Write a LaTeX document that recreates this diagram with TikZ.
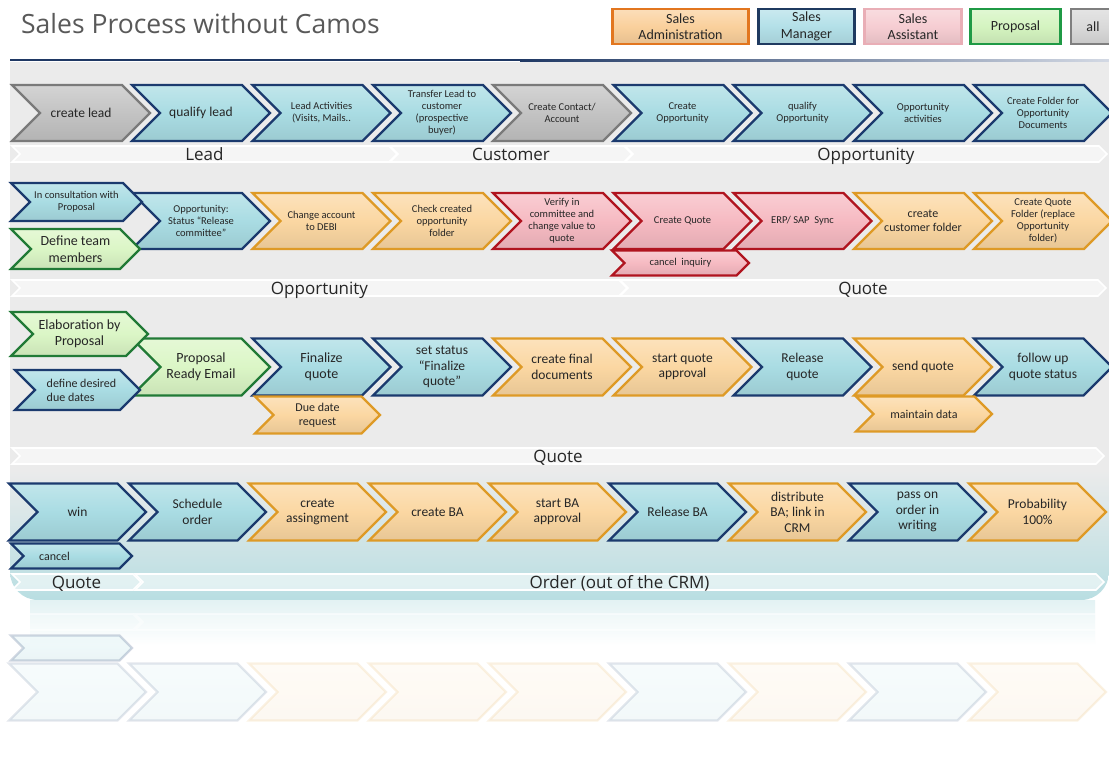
\documentclass[tikz,border=0pt]{standalone}
\usepackage{fontspec}
\setmainfont{Carlito}
\newfontfamily\hfont{Open Sans}
\usetikzlibrary{calc}
\definecolor{tealF}{HTML}{A9DCE3}
\definecolor{tealB}{HTML}{1B3A6E}
\definecolor{oranF}{HTML}{FBD7A2}
\definecolor{oranB}{HTML}{DE9A26}
\definecolor{greyF}{HTML}{C3C3C3}
\definecolor{greyB}{HTML}{7A7A7A}
\definecolor{pinkF}{HTML}{F6BAC2}
\definecolor{pinkB}{HTML}{B0141F}
\definecolor{greenF}{HTML}{DBF6C6}
\definecolor{greenB}{HTML}{217A36}
\definecolor{panel}{HTML}{EBEBEB}
\definecolor{panelT}{HTML}{B8DEE2}
\definecolor{txt}{HTML}{262626}
\definecolor{titlegrey}{HTML}{595959}
\definecolor{navy}{HTML}{1F3864}
\definecolor{navyfade}{HTML}{D3D9E4}
\definecolor{legSA}{HTML}{FAD09C}
\definecolor{legSAb}{HTML}{E2761F}
\definecolor{legSM}{HTML}{B3E0E8}
\definecolor{legSMb}{HTML}{1F3A60}
\definecolor{legAS}{HTML}{F6CDD2}
\definecolor{legASb}{HTML}{E9AEB6}
\definecolor{legPR}{HTML}{D4F4C0}
\definecolor{legPRb}{HTML}{1F9A45}
\definecolor{legAL}{HTML}{D9D9D9}
\definecolor{legALb}{HTML}{7F7F7F}

\tikzset{
 cbox/.style 2 args={top color=#1!72!white, bottom color=#1!92!black, middle color=#1, draw=#2, line width=2.2pt, line join=miter},
 kteal/.style={cbox={tealF}{tealB}},
 korange/.style={cbox={oranF}{oranB}},
 kgrey/.style={cbox={greyF}{greyB}},
 kpink/.style={cbox={pinkF}{pinkB}},
 kgreen/.style={cbox={greenF}{greenB}},
 ctext/.style={align=center, text=txt, inner sep=0pt},
 fa/.style={font=\fontsize{10.5}{12}\selectfont},
 fb/.style={font=\fontsize{12}{14}\selectfont},
 fc/.style={font=\fontsize{13.5}{15.5}\selectfont},
 fd/.style={font=\fontsize{14}{16.5}\selectfont},
 pbar/.style={fill=white, fill opacity=0.55, draw=white, line width=1.6pt, line join=miter},
 plabel/.style={font=\hfont\fontsize{17}{20}\selectfont, text=txt, inner sep=0pt, text height=12pt, text depth=0pt},
 legbox/.style 2 args={rectangle, top color=#1!70!white, bottom color=#1!92!black, middle color=#1, draw=#2, line width=2.8pt, minimum height=35pt, inner sep=0pt, align=center, text=txt, font=\fontsize{14}{16.5}\selectfont},
}

% chevron outline: x, cy, w, h, style
\newcommand{\chevpath}[5]{%
 \path[#5] (#1,{#2-#4/2}) -- ({#1+#3-#4/2},{#2-#4/2}) -- ({#1+#3},#2) -- ({#1+#3-#4/2},{#2+#4/2}) -- (#1,{#2+#4/2}) -- ({#1+#4/2},#2) -- cycle;}
% chevron with text: name, x, cy, w, h, shape style, text style, text
\newcommand{\chev}[8]{%
 \chevpath{#2}{#3}{#4}{#5}{#6}
 \node[ctext,#7] (#1) at ({#2+#4/2},#3) {#8};}
% phase bar: name, x1, x2, cy, text
\newcommand{\phasebar}[5]{%
 \path[pbar] (#2,{#4-8}) -- ({#3-8},{#4-8}) -- (#3,#4) -- ({#3-8},{#4+8}) -- (#2,{#4+8}) -- ({#2+8},#4) -- cycle;
 \node[plabel] (#1) at ({(#2+#3)/2},#4) {#5};}

\begin{document}
\begin{tikzpicture}[x=1pt, y=-1pt]
\useasboundingbox (0,0) rectangle (1109,763);
\fill[white] (0,0) rectangle (1109,763);

% panel
\begin{scope}
 \clip[rounded corners=28pt] (10,20) rectangle (1109,600);
 \fill[panel] (10,62) rectangle (1109,470);
 \shade[top color=panel, bottom color=panelT] (10,470) rectangle (1109,601);
\end{scope}

% reflection of the panel
\shade[top color=panelT!40!white, bottom color=white] (30,600) rectangle (1095,645);
\begin{scope}[shift={(0,1204)}, yscale=-1]
 \path[pbar, fill opacity=0.25, draw opacity=0.5] (12,574) -- (133,574) -- (141,582) -- (133,590) -- (12,590) -- (20,582) -- cycle;
 \path[pbar, fill opacity=0.25, draw opacity=0.5] (135,574) -- (1096,574) -- (1104,582) -- (1096,590) -- (135,590) -- (143,582) -- cycle;
 \chevpath{11}{556}{121}{25}{kteal, opacity=0.2}
 \chevpath{9}{512}{137}{57}{kteal, opacity=0.12}
 \chevpath{129}{512}{137}{57}{kteal, opacity=0.12}
 \chevpath{249}{512}{137}{57}{korange, opacity=0.12}
 \chevpath{369}{512}{137}{57}{korange, opacity=0.12}
 \chevpath{489}{512}{137}{57}{korange, opacity=0.12}
 \chevpath{609}{512}{137}{57}{kteal, opacity=0.12}
 \chevpath{729}{512}{137}{57}{korange, opacity=0.12}
 \chevpath{849}{512}{137}{57}{kteal, opacity=0.12}
 \chevpath{969}{512}{137}{57}{korange, opacity=0.12}
\end{scope}

% title and rule
\node[anchor=west, inner sep=0pt, font=\hfont\fontsize{26.5}{30}\selectfont, text=titlegrey] (title) at (21,23.5) {Sales Process without Camos};
\fill[navy] (10,59) rectangle (520,61.3);
\shade[left color=navy, right color=navyfade] (520,59) rectangle (1109,61.3);

% legend
\node[legbox={legSA}{legSAb}, minimum width=136pt] (lgsa) at (680.5,26.5) {Sales\\Administration};
\node[legbox={legSM}{legSMb}, minimum width=96pt] (lgsm) at (806.5,26.5) {Sales\\Manager};
\node[legbox={legAS}{legASb}, minimum width=97pt] (lgas) at (913,26.5) {Sales\\Assistant};
\node[legbox={legPR}{legPRb}, minimum width=90pt] (lgpr) at (1015.5,26.5) {Proposal};
\node[legbox={legAL}{legALb}, minimum width=44pt] (lgal) at (1093,26.5) {all};

% phase bars
\phasebar{p11}{12}{397}{154}{Lead}
\phasebar{p12}{390}{632}{154}{Customer}
\phasebar{p13}{625}{1107}{154}{Opportunity}
\phasebar{p21}{12}{627}{288}{Opportunity}
\phasebar{p22}{620}{1106}{288}{Quote}
\phasebar{p31}{12}{1104}{456}{Quote}
\phasebar{p41}{12}{141}{582}{Quote}
\phasebar{p42}{135}{1104}{582}{Order (out of the CRM)}

% row 1
\chev{n11}{12}{113}{138}{56}{kgrey}{fc}{create lead}
\chev{n12}{132}{113}{138}{56}{kteal}{fc}{qualify lead}
\chev{n13}{252.5}{113}{138}{56}{kteal}{fa}{Lead Activities\\(Visits, Mails..}
\chev{n14}{373}{113}{138}{56}{kteal}{fa}{Transfer Lead to\\customer\\(prospective\\buyer)}
\chev{n15}{493}{113}{138}{56}{kgrey}{fa}{Create Contact/\\Account}
\chev{n16}{613.5}{113}{138}{56}{kteal}{fa}{Create\\Opportunity}
\chev{n17}{733.5}{113}{138}{56}{kteal}{fa}{qualify\\Opportunity}
\chev{n18}{854}{113}{138}{56}{kteal}{fa}{Opportunity\\activities}
\chev{n19}{974}{113}{138}{56}{kteal}{fa}{Create Folder for\\Opportunity\\Documents}

% row 2
\chev{n22}{132}{221}{138}{56}{kteal}{fa}{Opportunity:\\Status “Release\\committee”}
\chev{n23}{252.5}{221}{138}{56}{korange}{fa}{Change account\\to DEBI}
\chev{n24}{373}{221}{138}{56}{korange}{fa}{Check created\\opportunity\\folder}
\chev{n25}{493}{221}{138}{56}{kpink}{fa}{Verify in\\committee and\\change value to\\quote}
\chev{n26}{613.5}{221}{138}{56}{kpink}{fa}{Create Quote}
\chev{n27}{733.5}{221}{138}{56}{kpink}{fa}{ERP/ SAP\ \ Sync}
\chev{n28}{854}{221}{138}{56}{korange}{fb}{create\\customer folder}
\chev{n29}{974}{221}{138}{56}{korange}{fa}{Create Quote\\Folder (replace\\Opportunity\\folder)}
\chev{n21}{11}{202}{131}{38}{kteal}{fa}{In consultation with\\Proposal}
\chev{n20}{11}{249}{129}{40}{kgreen}{fd}{Define team\\members}
\chev{n2c}{612}{263}{137}{25}{kpink}{fa}{cancel\ \ inquiry}

% row 3
\chev{n32}{132}{367}{138}{57}{kgreen}{fd}{Proposal\\Ready Email}
\chev{n33}{252.5}{367}{138}{57}{kteal}{fd}{Finalize\\quote}
\chev{n34}{373}{367}{138}{57}{kteal}{fc}{set status\\“Finalize\\quote”}
\chev{n35}{493}{367}{138}{57}{korange}{fc}{create final\\documents}
\chev{n36}{613.5}{367}{138}{57}{korange}{fc}{start quote\\approval}
\chev{n37}{733.5}{367}{138}{57}{kteal}{fc}{Release\\quote}
\chev{n38}{854}{367}{138}{57}{korange}{fc}{send quote}
\chev{n39}{974}{367}{138}{57}{kteal}{fc}{follow up\\quote status}
\chev{n31}{11}{334}{137}{44}{kgreen}{fd}{Elaboration by\\Proposal}
\chev{n30}{15}{390}{125}{40}{kteal}{fb, align=left, xshift=4pt}{define desired\\due dates}
\chev{n3d}{255}{415}{125}{37}{korange}{fb}{Due date\\request}
\chev{n3m}{856}{414}{136}{35}{korange}{fb}{maintain data}

% row 4
\chev{n41}{9}{512}{137}{57}{kteal}{fc}{win}
\chev{n42}{129}{512}{137}{57}{kteal}{fc}{Schedule\\order}
\chev{n43}{249}{512}{137}{57}{korange}{fc}{create\\assingment}
\chev{n44}{369}{512}{137}{57}{korange}{fc}{create BA}
\chev{n45}{489}{512}{137}{57}{korange}{fc}{start BA\\approval}
\chev{n46}{609}{512}{137}{57}{kteal}{fc}{Release BA}
\chev{n47}{729}{512}{137}{57}{korange}{fc}{distribute\\BA; link in\\CRM}
\chev{n48}{849}{512}{137}{57}{kteal}{fc}{pass on\\order in\\writing}
\chev{n49}{969}{512}{137}{57}{korange}{fc}{Probability\\100\%}
\chev{n40}{11}{556}{121}{25}{kteal}{fb, xshift=-17pt}{cancel}
\end{tikzpicture}
\end{document}
